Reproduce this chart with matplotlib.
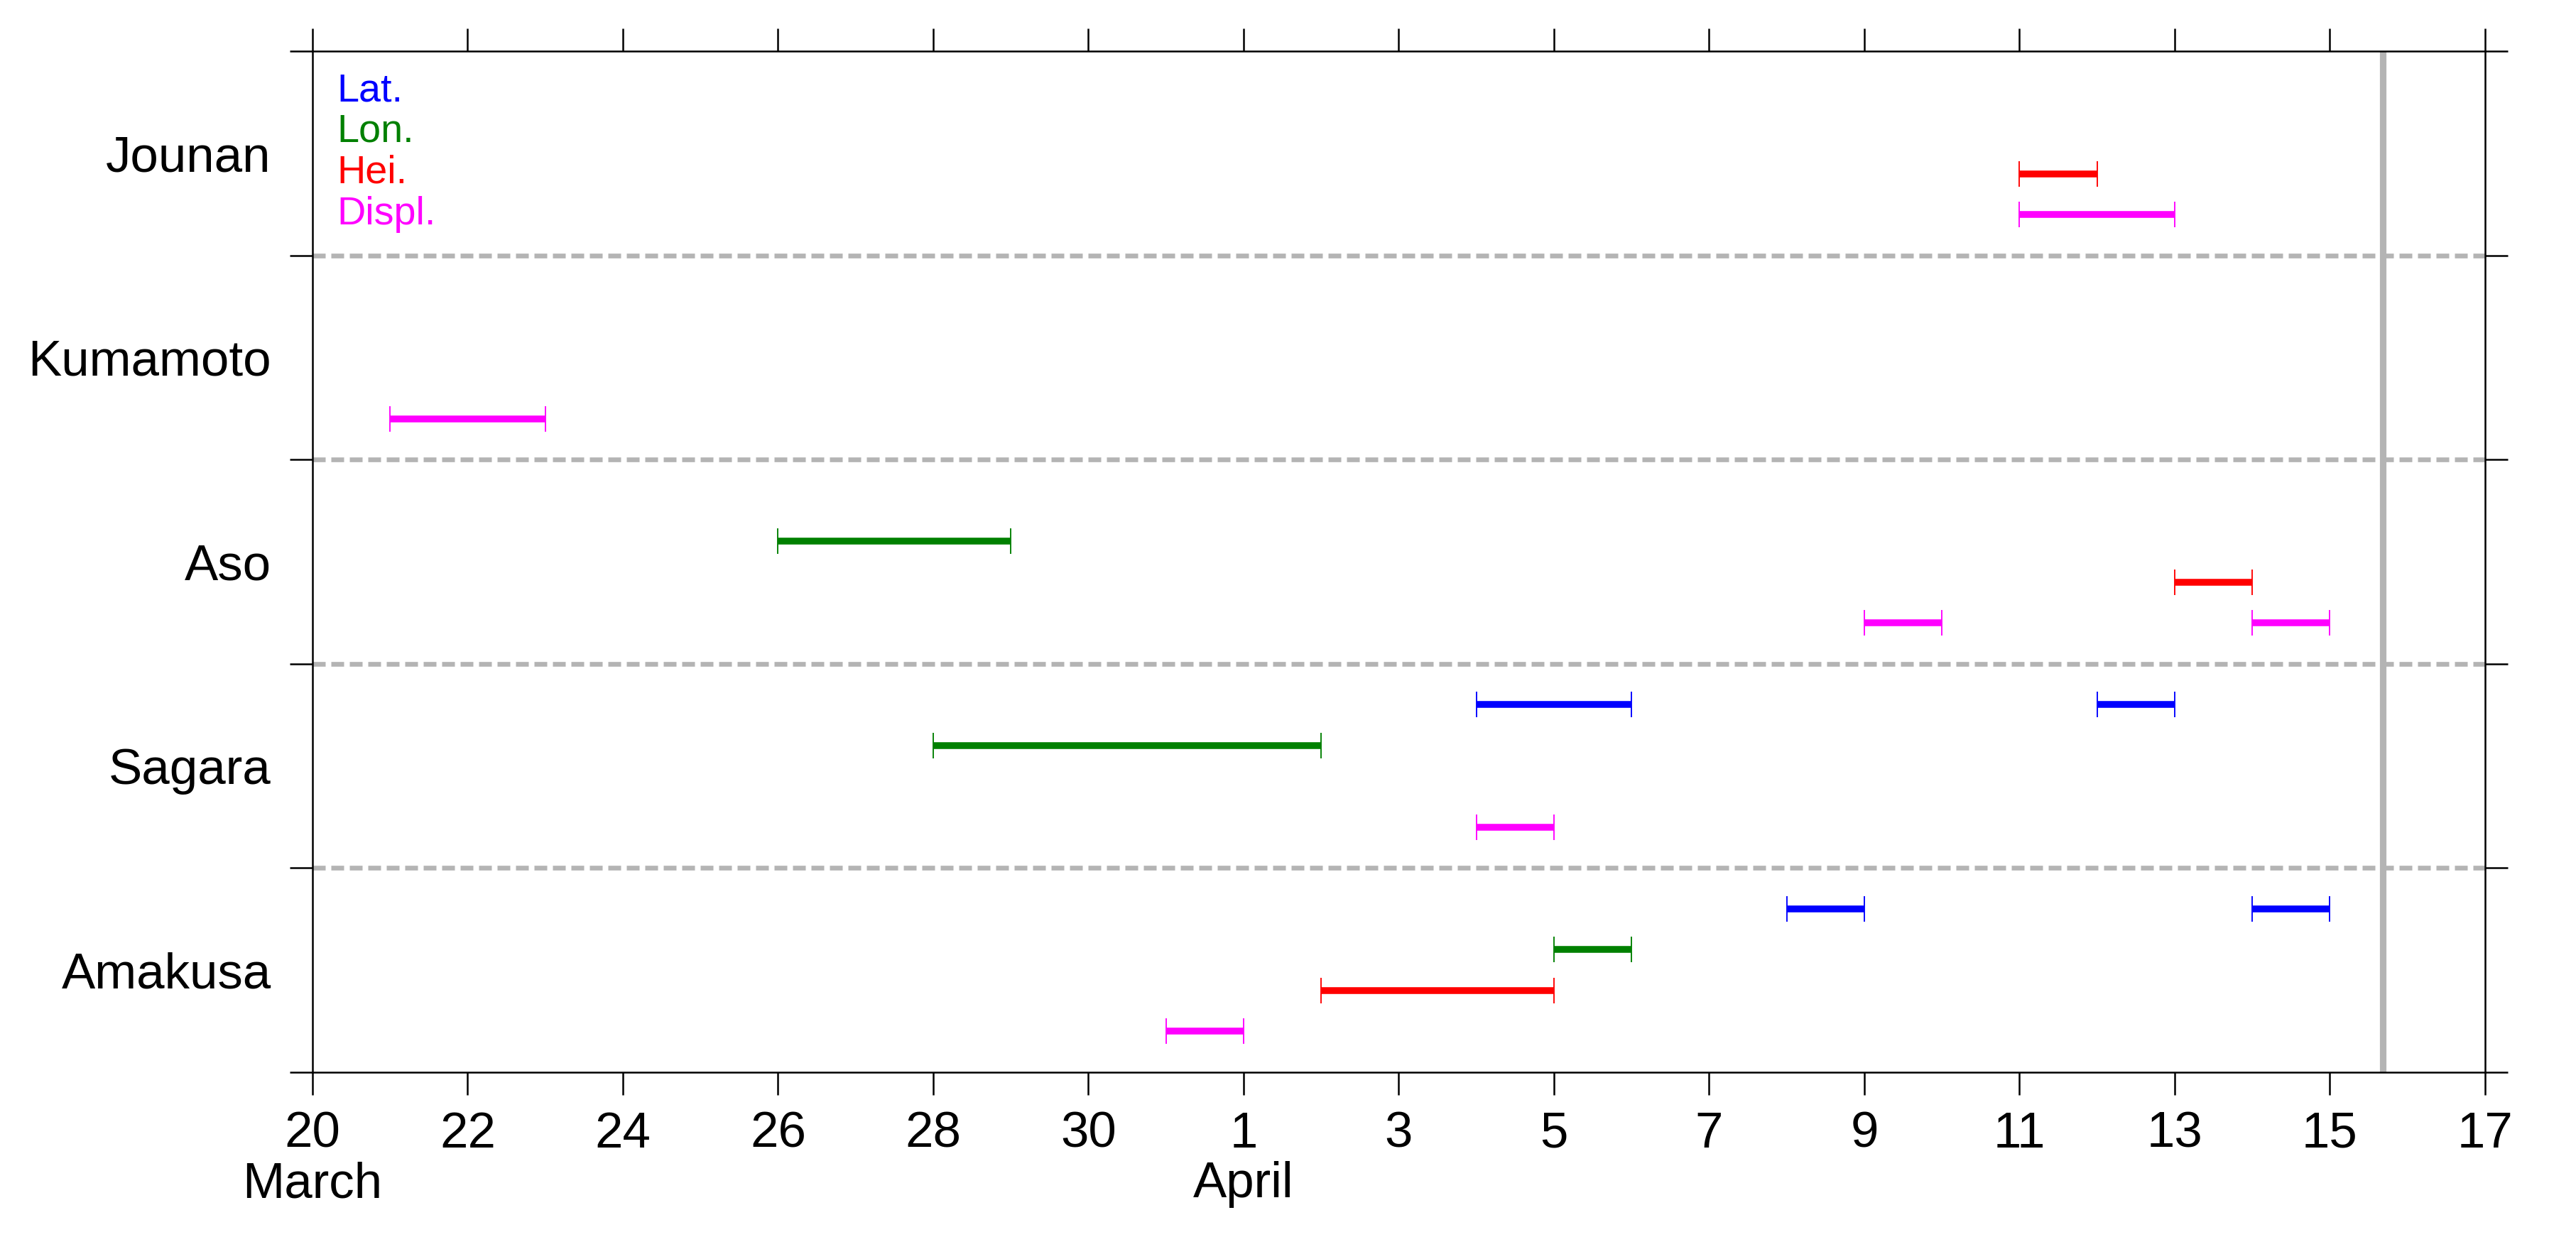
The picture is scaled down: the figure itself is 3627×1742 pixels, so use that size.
import matplotlib
matplotlib.use("Agg")
import matplotlib.pyplot as plt
import pandas as pd

plt.rcParams.update({
    "font.family": ["Liberation Sans", "DejaVu Sans"],
    "axes.linewidth": 0.6,
})

# Dados: intervalos (início, fim) por estação e componente
stations = ["Jounan", "Kumamoto", "Aso", "Sagara", "Amakusa"]
components = ["Lat.", "Lon.", "Hei.", "Displ."]
comp_colors = ["#0000FF", "#008000", "#FF0000", "#FF00FF"]

lat_start = {"Sagara": ["2016-04-04", "2016-04-12"], "Amakusa": ["2016-04-08", "2016-04-14"]}
lat_end   = {"Sagara": ["2016-04-06", "2016-04-13"], "Amakusa": ["2016-04-09", "2016-04-15"]}
lon_start = {"Aso": ["2016-03-26"], "Sagara": ["2016-03-28"], "Amakusa": ["2016-04-05"]}
lon_end   = {"Aso": ["2016-03-29"], "Sagara": ["2016-04-02"], "Amakusa": ["2016-04-06"]}
hei_start = {"Jounan": ["2016-04-11"], "Aso": ["2016-04-13"], "Amakusa": ["2016-04-02"]}
hei_end   = {"Jounan": ["2016-04-12"], "Aso": ["2016-04-14"], "Amakusa": ["2016-04-05"]}
dis_start = {"Jounan": ["2016-04-11"], "Kumamoto": ["2016-03-21"],
             "Aso": ["2016-04-09", "2016-04-14"], "Sagara": ["2016-04-04"],
             "Amakusa": ["2016-03-31"]}
dis_end   = {"Jounan": ["2016-04-13"], "Kumamoto": ["2016-03-23"],
             "Aso": ["2016-04-10", "2016-04-15"], "Sagara": ["2016-04-05"],
             "Amakusa": ["2016-04-01"]}

t0 = pd.Timestamp("2016-03-20")
mainshock = pd.Timestamp("2016-04-15 16:25")   # UTC
tick_days = list(range(0, 29, 2))
tick_labels = ["20\nMarch", "22", "24", "26", "28", "30", "1\nApril", "3", "5",
               "7", "9", "11", "13", "15", "17"]

def days(s):
    return (pd.to_datetime(s) - t0) / pd.Timedelta(days=1)

fig = plt.figure(figsize=(3627/300, 1742/300), dpi=300)
ax = fig.add_axes([0.1213, 0.1332, 0.9647-0.1213, 0.9587-0.1332])

starts = [lat_start, lon_start, hei_start, dis_start]
ends = [lat_end, lon_end, hei_end, dis_end]
for ci, (st, en, col) in enumerate(zip(starts, ends, comp_colors)):
    for si, name in enumerate(stations):
        if name not in st:
            continue
        a = days(st[name]).to_numpy()
        b = days(en[name]).to_numpy()
        y = [si*5 + ci + 1] * len(a)
        ax.errorbar((a+b)/2, y, xerr=(b-a)/2, fmt="none", ecolor=col,
                    elinewidth=2.3, capsize=4.3, capthick=0.45, zorder=3)

# separadores e sismo principal
for k in range(1, len(stations)):
    ax.axhline(k*5, color="#B4B4B4", lw=1.6, ls=(0, (2.7, 1.2)), zorder=1)
ax.axvline(days(mainshock), color="#B4B4B4", lw=2.2, zorder=1)

ax.set_xlim(0, 28)
ax.set_ylim(len(stations)*5, 0)
ax.set_xticks(tick_days)
ax.set_xticklabels(tick_labels, fontsize=17, linespacing=1.08)
ax.set_yticks(range(0, len(stations)*5+1, 5))
ax.set_yticklabels([])
ax.set_yticks([k*5 + 2.5 for k in range(len(stations))], minor=True)
ax.set_yticklabels(stations, minor=True, fontsize=17)
ax.tick_params(axis="both", which="major", direction="out", length=7.7, width=0.6,
               top=True, right=True, labeltop=False, pad=5.5)
ax.tick_params(axis="y", which="minor", length=0, pad=14)

for i, (lab, col) in enumerate(zip(components, comp_colors)):
    ax.text(0.0111, 0.961 - i*0.0403, lab, color=col, fontsize=13.4,
            transform=ax.transAxes, ha="left", va="center")

fig.savefig("out.png", dpi=300, facecolor="white")
